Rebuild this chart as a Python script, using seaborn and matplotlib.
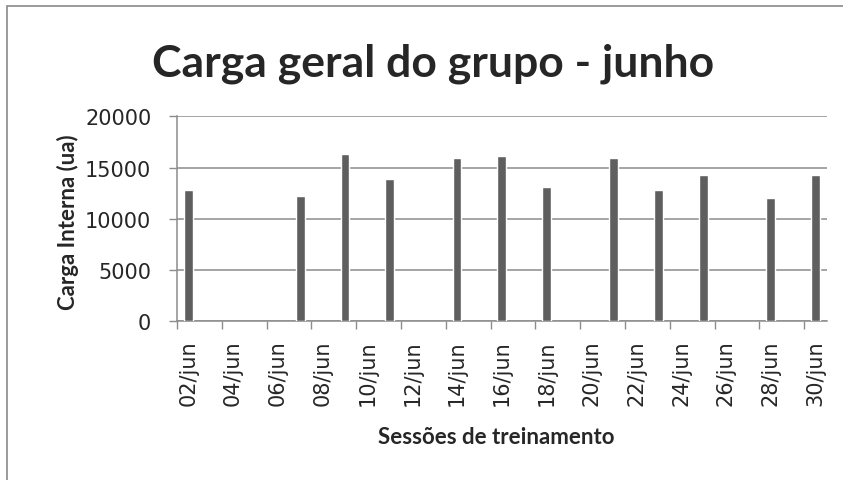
import pandas as pd
import seaborn as sns
import matplotlib.pyplot as plt
from matplotlib.patches import Rectangle
from matplotlib.ticker import FixedLocator

sns.set_style('white')
plt.rcParams['font.family'] = ['DejaVu Sans']

# %% data
dias = ['%02d/jun' % d for d in range(2, 31)]
sessoes = ['02/jun', '07/jun', '09/jun', '11/jun', '14/jun', '16/jun',
           '18/jun', '21/jun', '23/jun', '25/jun', '28/jun', '30/jun']
carga = [12800, 12200, 16300, 13850, 15950, 16100,
         13150, 15950, 12800, 14300, 12050, 14300]
yticks = [0, 5000, 10000, 15000, 20000]

df = pd.DataFrame({'dia': sessoes, 'carga': carga})

# %% plot
fig = plt.figure(figsize=(8.43, 4.81), dpi=100)
ax = fig.add_axes([177 / 843, 1 - 322.3 / 481, 649.7 / 843, 205 / 481])

grid_c = '#8c8c8c'
sns.barplot(data=df, x='dia', y='carga', order=dias, color='#5f5f5f',
            saturation=1, width=0.39, ax=ax, zorder=3)

ax.set_xlim(-0.5, len(dias) - 0.5)
ax.set_ylim(0, 20000)
ax.set_yticks(yticks)
ax.set_yticklabels([str(v) for v in yticks])
ax.yaxis.grid(True, color=grid_c, lw=1.1, zorder=0)

# labels every 2 days, tick marks on category borders
pos = list(range(0, len(dias), 2))
ax.set_xticks(pos)
ax.set_xticklabels([dias[i] for i in pos], rotation=90, va='top', ha='center')
ax.xaxis.set_minor_locator(FixedLocator([p - 0.5 for p in pos]))
ax.tick_params(axis='x', which='major', length=0, pad=13, labelsize=15)
ax.tick_params(axis='x', which='minor', length=5.5, width=1, color=grid_c,
               direction='out')
ax.tick_params(axis='y', length=5.5, width=1, color=grid_c, pad=13,
               labelsize=15, direction='out')
ax.tick_params(bottom=True, left=True)
ax.xaxis.set_tick_params(which='minor', bottom=True)

for s in ['top', 'right']:
    ax.spines[s].set_visible(False)
for s in ['left', 'bottom']:
    ax.spines[s].set_color(grid_c)
    ax.spines[s].set_linewidth(1.1)

ax.set_xlabel('Sessões de treinamento', fontsize=16, fontweight='bold',
              family='Lato')
ax.xaxis.set_label_coords((496 - 177) / 649.7, (322.3 - 438) / 205)
ax.xaxis.label.set_va('center')
ax.set_ylabel('Carga Interna (ua)', fontsize=16, fontweight='bold',
              family='Lato')
ax.yaxis.set_label_coords((68 - 177) / 649.7, (322.3 - 222) / 205)
ax.yaxis.label.set_va('center')

fig.text(433.5 / 843, 1 - 77 / 481, 'Carga geral do grupo - junho',
         ha='center', va='baseline', fontsize=32, fontweight='bold',
         family='Lato')

# chart area border (cut at right/bottom)
fig.patches.append(Rectangle((7 / 843, -0.1), 1.2, 1 - 6.5 / 481 + 0.1,
                             transform=fig.transFigure, fill=False,
                             edgecolor='#8a8a8a', lw=1.2))

fig.savefig('out.png', dpi=100)
